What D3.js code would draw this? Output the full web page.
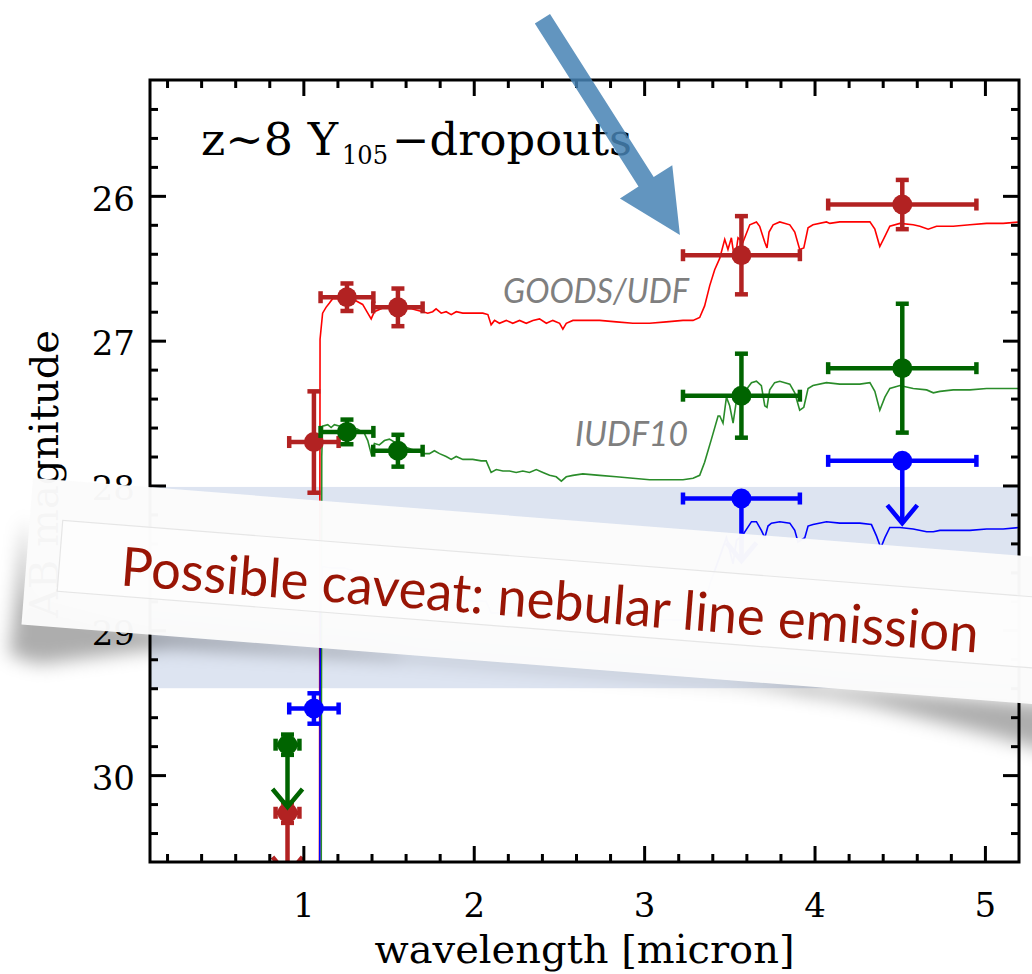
<!DOCTYPE html>
<html>
<head>
<meta charset="utf-8"/>
<title>z~8 Y105-dropouts</title>
<script src="https://cdn.jsdelivr.net/npm/d3@7"></script>
<style>
html, body {
    margin: 0;
    padding: 0;
    background: #fff;
}
svg { display: block; }
</style>
</head>
<body>
<svg id="chart"></svg>
<script>

// Filters: wavelength centre and half width (micron).
const bands = ["z850", "Y105", "J125", "H160", "IRAC1", "IRAC2"];
const bandWave = [0.907, 1.062, 1.256, 1.555, 3.571, 4.515];
const bandHalfWidth = [0.07, 0.145, 0.155, 0.145, 0.343, 0.435];

// Photometry (AB mag), errors, and which ones are upper limits.
const goodsMag = [30.26, 27.70, 26.70, 26.77, 26.41, 26.06];
const goodsErr = [0.07, 0.35, 0.095, 0.13, 0.27, 0.17];
const goodsLimit = [true, false, false, false, false, false];

const iudfMag = [29.79, null, 27.63, 27.76, 27.38, 27.19];
const iudfErr = [0.07, 0, 0.085, 0.11, 0.29, 0.445];
const iudfLimit = [true, false, false, false, false, false];

const thirdMag = [null, 29.54, null, null, 28.09, 27.83];
const thirdErr = [0, 0.105, 0, 0, 0, 0];
const thirdLimit = [false, false, false, false, true, true];

// Best fit model spectra [micron, mag].
const goodsModel = [[1.094,31.5],[1.098,26.99],[1.113,26.81],[1.133,26.77],[1.153,26.74],[1.172,26.71],[1.229,26.71],[1.300,26.72],[1.348,26.75],[1.378,26.81],[1.398,26.85],[1.417,26.80],[1.476,26.77],[1.564,26.78],[1.634,26.78],[1.701,26.80],[1.730,26.81],[1.759,26.80],[1.779,26.78],[1.809,26.81],[1.838,26.80],[1.868,26.82],[1.897,26.80],[1.936,26.81],[1.994,26.81],[2.053,26.81],[2.083,26.82],[2.102,26.89],[2.122,26.86],[2.151,26.88],[2.191,26.86],[2.229,26.88],[2.269,26.86],[2.308,26.88],[2.347,26.86],[2.386,26.85],[2.426,26.88],[2.464,26.86],[2.504,26.88],[2.523,26.92],[2.543,26.88],[2.582,26.86],[2.640,26.86],[2.739,26.86],[2.837,26.87],[2.934,26.88],[3.032,26.88],[3.130,26.87],[3.228,26.86],[3.287,26.86],[3.326,26.84],[3.355,26.76],[3.385,26.62],[3.414,26.51],[3.444,26.43],[3.473,26.30],[3.492,26.37],[3.512,26.29],[3.532,26.45],[3.551,26.29],[3.580,26.32],[3.620,26.20],[3.659,26.18],[3.678,26.21],[3.708,26.32],[3.721,26.36],[3.733,26.25],[3.757,26.20],[3.796,26.18],[3.855,26.20],[3.884,26.25],[3.913,26.37],[3.937,26.36],[3.962,26.22],[3.991,26.20],[4.070,26.18],[4.090,26.19],[4.148,26.18],[4.226,26.18],[4.325,26.18],[4.354,26.23],[4.383,26.35],[4.413,26.28],[4.442,26.21],[4.501,26.19],[4.579,26.20],[4.618,26.21],[4.667,26.23],[4.716,26.21],[4.814,26.21],[4.912,26.20],[5.010,26.19],[5.107,26.19],[5.205,26.18]];

const iudfModel = [[1.104,31.5],[1.108,27.80],[1.113,27.59],[1.143,27.58],[1.163,27.60],[1.182,27.58],[1.241,27.60],[1.317,27.61],[1.358,27.64],[1.378,27.69],[1.398,27.78],[1.417,27.71],[1.446,27.72],[1.476,27.69],[1.505,27.68],[1.564,27.72],[1.634,27.75],[1.711,27.78],[1.740,27.78],[1.769,27.76],[1.799,27.78],[1.838,27.80],[1.868,27.82],[1.897,27.80],[1.936,27.82],[1.994,27.82],[2.044,27.83],[2.073,27.83],[2.102,27.91],[2.132,27.89],[2.171,27.90],[2.210,27.90],[2.249,27.91],[2.288,27.90],[2.327,27.91],[2.367,27.89],[2.406,27.91],[2.445,27.93],[2.484,27.94],[2.514,27.97],[2.543,27.94],[2.582,27.93],[2.640,27.92],[2.739,27.93],[2.837,27.94],[2.934,27.95],[3.032,27.96],[3.130,27.96],[3.228,27.96],[3.287,27.95],[3.326,27.93],[3.355,27.84],[3.395,27.68],[3.434,27.52],[3.444,27.52],[3.463,27.57],[3.483,27.39],[3.502,27.45],[3.522,27.57],[3.542,27.41],[3.579,27.37],[3.630,27.29],[3.659,27.28],[3.688,27.31],[3.708,27.45],[3.721,27.46],[3.737,27.34],[3.766,27.29],[3.796,27.28],[3.855,27.30],[3.884,27.36],[3.913,27.48],[3.937,27.46],[3.962,27.33],[3.991,27.31],[4.070,27.29],[4.148,27.30],[4.266,27.30],[4.325,27.29],[4.354,27.35],[4.383,27.48],[4.413,27.39],[4.442,27.33],[4.501,27.31],[4.579,27.33],[4.658,27.34],[4.697,27.36],[4.736,27.35],[4.814,27.34],[4.912,27.34],[5.010,27.33],[5.107,27.33],[5.205,27.33]];

const thirdModel = [[1.094,31.5],[1.100,28.80],[1.113,28.56],[1.163,28.57],[1.241,28.57],[1.358,28.61],[1.398,28.75],[1.446,28.69],[1.564,28.69],[1.740,28.75],[1.868,28.79],[2.073,28.80],[2.102,28.88],[2.249,28.88],[2.484,28.91],[2.514,28.94],[2.640,28.89],[2.934,28.92],[3.228,28.93],[3.326,28.90],[3.395,28.65],[3.444,28.49],[3.483,28.36],[3.522,28.54],[3.542,28.38],[3.580,28.34],[3.630,28.25],[3.659,28.25],[3.688,28.31],[3.708,28.36],[3.727,28.28],[3.747,28.26],[3.796,28.25],[3.855,28.26],[3.884,28.31],[3.903,28.39],[3.943,28.36],[3.962,28.28],[3.991,28.27],[4.070,28.25],[4.148,28.26],[4.266,28.26],[4.334,28.27],[4.364,28.35],[4.389,28.43],[4.413,28.36],[4.442,28.29],[4.501,28.29],[4.579,28.30],[4.658,28.32],[4.697,28.32],[4.736,28.31],[4.814,28.31],[4.912,28.31],[5.010,28.30],[5.107,28.30],[5.205,28.29]];

// Highlighted magnitude range, arrow (micron, mag) and label spots.
const nebularBand = [28.01, 29.4];
const arrowFrom = [2.403, 24.777];
const arrowTo = [3.210, 26.270];
const goodsLabelAt = [2.172, 26.74];
const iudfLabelAt = [2.594, 27.728];

const W = 1032, H = 974;
const margin = {top: 80, right: 13, bottom: 112, left: 150};
const x0 = margin.left, x1 = W - margin.right;
const y0 = margin.top, y1 = H - margin.bottom;

// Scales.
const x = d3.scaleLinear().domain([0.1, 5.2]).range([x0, x1]);
const y = d3.scaleLinear().domain([25.2, 30.6]).range([y0, y1]);

const svg = d3.select("#chart").attr("width", W).attr("height", H);
const defs = svg.append("defs");
defs.append("clipPath").attr("id", "plotclip")
    .append("rect").attr("x", x0).attr("y", y0).attr("width", x1 - x0).attr("height", y1 - y0);
defs.append("filter").attr("id", "soft")
    .attr("x", "-30%").attr("y", "-100%").attr("width", "160%").attr("height", "300%")
    .append("feGaussianBlur").attr("stdDeviation", 9);

// Light blue band behind the data.
svg.append("rect")
    .attr("x", x0).attr("width", x1 - x0)
    .attr("y", y(nebularBand[0])).attr("height", y(nebularBand[1]) - y(nebularBand[0]))
    .attr("fill", "#dde4f1");

const plot = svg.append("g").attr("clip-path", "url(#plotclip)");

// Model spectra.
const line = d3.line().x(d => x(d[0])).y(d => y(d[1]));
[[goodsModel, "#ff0000"], [iudfModel, "#2a8c2a"], [thirdModel, "#0000ff"]].forEach(s => {
    plot.append("path")
        .attr("d", line(s[0]))
        .attr("fill", "none")
        .attr("stroke", s[1])
        .attr("stroke-width", 1.6);
});

// Photometry with error bars and upper limits.
function drawPhot(mags, errs, limits, color) {
    const g = plot.append("g").attr("stroke", color).attr("fill", color).attr("stroke-width", 4.5);
    bands.forEach((b, i) => {
        const m = mags[i];
        if (m == null) return;
        const cx = x(bandWave[i]), cy = y(m);
        const xa = x(bandWave[i] - bandHalfWidth[i]), xb = x(bandWave[i] + bandHalfWidth[i]);
        g.append("line").attr("x1", xa).attr("x2", xb).attr("y1", cy).attr("y2", cy);
        [xa, xb].forEach(xx => g.append("line")
            .attr("x1", xx).attr("x2", xx).attr("y1", cy - 6).attr("y2", cy + 6));
        if (errs[i] > 0) {
            const ya = y(m - errs[i]), yb = y(m + errs[i]);
            g.append("line").attr("x1", cx).attr("x2", cx).attr("y1", ya).attr("y2", yb);
            [ya, yb].forEach(yy => g.append("line")
                .attr("x1", cx - 6.5).attr("x2", cx + 6.5).attr("y1", yy).attr("y2", yy));
        }
        if (limits[i]) {
            const tip = y(m + 0.43);
            g.append("line").attr("x1", cx).attr("x2", cx).attr("y1", cy).attr("y2", tip);
            g.append("path")
                .attr("d", "M" + (cx - 15) + "," + (tip - 18) + "L" + cx + "," + tip + "L" + (cx + 15) + "," + (tip - 18))
                .attr("fill", "none");
        }
        g.append("circle").attr("cx", cx).attr("cy", cy).attr("r", 10).attr("stroke", "none");
    });
}
drawPhot(goodsMag, goodsErr, goodsLimit, "#b22222");
drawPhot(iudfMag, iudfErr, iudfLimit, "#006400");
drawPhot(thirdMag, thirdErr, thirdLimit, "#0000ff");

// Axes, ticks on all four sides.
const majorX = [1, 2, 3, 4, 5];
const minorX = d3.range(1, 26).map(i => +(i * 0.2).toFixed(1)).filter(v => v % 1 !== 0);
const majorY = [26, 27, 28, 29, 30];
const minorY = d3.range(127, 153).map(i => +(i * 0.2).toFixed(1)).filter(v => v % 1 !== 0);

function drawAxis(axisFn, scale, pos, values, size, labels) {
    const a = axisFn(scale).tickValues(values).tickSize(-size)
        .tickFormat(labels ? d3.format("d") : "");
    const g = svg.append("g").attr("transform", pos).call(a);
    g.select(".domain").remove();
    g.selectAll("line").attr("stroke-width", 3);
    g.attr("font-family", "DejaVu Serif").attr("font-size", 34);
    return g;
}
drawAxis(d3.axisBottom, x, "translate(0," + y1 + ")", majorX, 16, true).call(a => a.selectAll("text").attr("y", 31));
drawAxis(d3.axisBottom, x, "translate(0," + y1 + ")", minorX, 8, false);
drawAxis(d3.axisTop, x, "translate(0," + y0 + ")", majorX, 16, false);
drawAxis(d3.axisTop, x, "translate(0," + y0 + ")", minorX, 8, false);
drawAxis(d3.axisLeft, y, "translate(" + x0 + ",0)", majorY, 16, true)
    .call(a => a.selectAll("text").attr("x", -15).attr("dy", "0.42em"));
drawAxis(d3.axisLeft, y, "translate(" + x0 + ",0)", minorY, 8, false);
drawAxis(d3.axisRight, y, "translate(" + x1 + ",0)", majorY, 16, false);
drawAxis(d3.axisRight, y, "translate(" + x1 + ",0)", minorY, 8, false);

svg.append("rect")
    .attr("x", x0).attr("y", y0).attr("width", x1 - x0).attr("height", y1 - y0)
    .attr("fill", "none").attr("stroke", "#000").attr("stroke-width", 3);

// Axis titles.
svg.append("text")
    .attr("x", (x0 + x1) / 2).attr("y", 963)
    .attr("text-anchor", "middle")
    .attr("font-family", "DejaVu Serif").attr("font-size", 40)
    .text("wavelength [micron]");
svg.append("text")
    .attr("transform", "translate(58," + ((y0 + y1) / 2 + 3) + ") rotate(-90)")
    .attr("text-anchor", "middle")
    .attr("font-family", "DejaVu Serif").attr("font-size", 40)
    .text("AB magnitude");

// Panel title.
const title = svg.append("g").attr("font-family", "DejaVu Serif").attr("fill", "#000");
title.append("text").attr("x", 201).attr("y", 155).attr("font-size", 44)
    .attr("textLength", 137).attr("lengthAdjust", "spacingAndGlyphs").text("z~8 Y");
title.append("text").attr("x", 342).attr("y", 164).attr("font-size", 26)
    .attr("textLength", 46).attr("lengthAdjust", "spacingAndGlyphs").text("105");
title.append("text").attr("x", 392).attr("y", 155).attr("font-size", 44)
    .attr("textLength", 240).attr("lengthAdjust", "spacingAndGlyphs").text("\u2212dropouts");

// Field labels.
[[goodsLabelAt, "GOODS/UDF", 186], [iudfLabelAt, "IUDF10", 113]].forEach(l => {
    svg.append("text")
        .attr("x", x(l[0][0])).attr("y", y(l[0][1]))
        .attr("font-family", "Lato").attr("font-style", "italic").attr("font-size", 35)
        .attr("fill", "#7f7f7f")
        .attr("textLength", l[2]).attr("lengthAdjust", "spacingAndGlyphs")
        .text(l[1]);
});

// Big arrow pointing at the break.
(function() {
    const ax = x(arrowFrom[0]), ay = y(arrowFrom[1]);
    const bx = x(arrowTo[0]), by = y(arrowTo[1]);
    const len = Math.hypot(bx - ax, by - ay);
    const ux = (bx - ax) / len, uy = (by - ay) / len;
    const px = -uy, py = ux;
    const shaft = 9, head = 31, headLen = 63;
    const hx = bx - ux * headLen, hy = by - uy * headLen;
    const pts = [
        [ax + px * shaft, ay + py * shaft],
        [hx + px * shaft, hy + py * shaft],
        [hx + px * head, hy + py * head],
        [bx, by],
        [hx - px * head, hy - py * head],
        [hx - px * shaft, hy - py * shaft],
        [ax - px * shaft, ay - py * shaft]
    ];
    svg.append("path")
        .attr("d", "M" + pts.map(p => p.join(",")).join("L") + "Z")
        .attr("fill", "rgb(70,130,180)")
        .attr("fill-opacity", 0.85);
})();

// Caveat card with curled shadow (left and right corners lifted).
const card = svg.append("g").attr("transform", "translate(33,478) rotate(4.5)");
const shadow = card.append("g").attr("filter", "url(#soft)").attr("fill", "#000");
shadow.append("path")
    .attr("d", "M-4,40 L8,120 L120,140 L380,146 L380,150 L150,158 L20,185 L-10,178 Z")
    .attr("fill-opacity", 0.32);
shadow.append("path")
    .attr("d", "M300,146 L800,146 L800,150 L300,150 Z")
    .attr("fill-opacity", 0.35);
shadow.append("path")
    .attr("d", "M700,146 L1070,146 L1070,200 L980,182 L850,160 Z")
    .attr("fill-opacity", 0.32);
card.append("rect")
    .attr("x", 0).attr("y", 0).attr("width", 1100).attr("height", 147)
    .attr("fill", "#fbfbfb").attr("fill-opacity", 0.975);
card.append("rect")
    .attr("x", 33).attr("y", 40).attr("width", 1100).attr("height", 71)
    .attr("fill", "#ffffff").attr("fill-opacity", 0.6)
    .attr("stroke", "#e6e6e6").attr("stroke-width", 1.2);
card.append("text")
    .attr("x", 95).attr("y", 100)
    .attr("font-family", "Lato").attr("font-size", 54)
    .attr("fill", "#991505")
    .attr("textLength", 860).attr("lengthAdjust", "spacingAndGlyphs")
    .text("Possible caveat: nebular line emission");

</script>
</body>
</html>
